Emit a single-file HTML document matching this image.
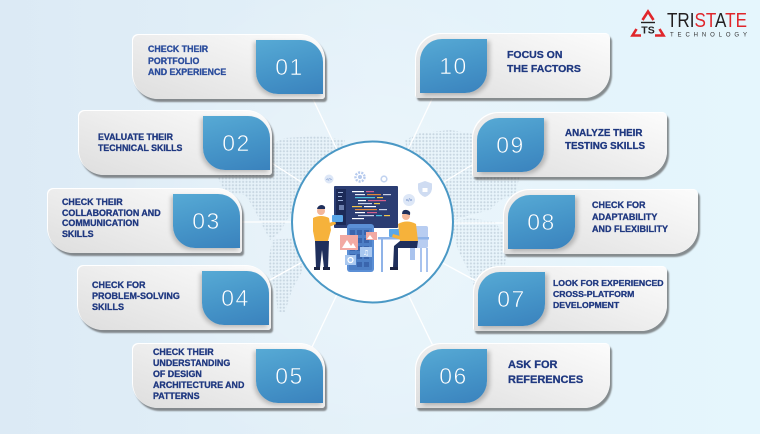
<!DOCTYPE html>
<html><head><meta charset="utf-8"><style>
*{margin:0;padding:0;box-sizing:border-box}
html,body{width:760px;height:434px;overflow:hidden}
body{position:relative;background:linear-gradient(90deg,#dceaf5 0%,#e3f1f9 50%,#e5f6fd 100%);font-family:"Liberation Sans",Arial,sans-serif}
.c{position:absolute;height:65px;background:linear-gradient(200deg,#fcfcfc 0%,#efefef 45%,#dedede 100%);box-shadow:2px 3px 1.5px rgba(70,70,70,.6),inset 1px 1px 0 #fff}
.l{border-radius:6px 26px 3px 26px}
.r{border-radius:26px 5px 26px 3px}
.b{position:absolute;top:6px;width:67px;height:54px;background:linear-gradient(165deg,#57aad5 0%,#4594c8 55%,#3a82bd 100%);color:#fff;font-size:23px;display:flex;align-items:center;justify-content:center;letter-spacing:1.5px;-webkit-text-stroke:.6px #4895c8}
.l .b{right:2px;border-radius:0 22px 0 22px;box-shadow:-2px 2px 4px rgba(0,0,0,.22)}
.r .b{left:5px;border-radius:22px 0 22px 0;box-shadow:3px 2px 4px rgba(0,0,0,.22)}
.t{position:absolute;font-weight:bold;color:#1f3880;white-space:nowrap;font-size:9px;-webkit-text-stroke:.3px #1f3880}
</style></head><body>

<svg width="760" height="434" style="position:absolute;left:0;top:0">
<defs>
<pattern id="d" width="3.4" height="3.4" patternUnits="userSpaceOnUse"><circle cx="1.7" cy="1.7" r="1.05" fill="#c7d6e1"/></pattern>
<radialGradient id="glow" cx="372" cy="222" r="260" gradientUnits="userSpaceOnUse"><stop offset="0" stop-color="#ffffff" stop-opacity=".35"/><stop offset="1" stop-color="#ffffff" stop-opacity="0"/></radialGradient>
</defs>
<rect width="760" height="434" fill="url(#glow)"/>
<g fill="url(#d)">
<path d="M218,178 L235,170 L258,150 L285,138 L320,136 L345,140 L340,160 L320,180 L300,200 L290,215 L280,232 L270,240 L262,225 L252,205 L245,195 L225,192 Z"/>
<path d="M272,240 L292,238 L305,250 L303,270 L292,290 L285,312 L278,312 L275,290 L268,265 Z"/>
<path d="M405,140 L420,133 L450,130 L480,135 L500,140 L505,160 L520,175 L515,195 L500,200 L490,210 L470,215 L455,220 L440,210 L420,200 L412,180 Z"/>
<path d="M450,222 L470,218 L495,222 L508,240 L505,265 L495,285 L485,300 L475,290 L468,270 L458,250 Z"/>
<path d="M478,290 L498,288 L505,300 L498,312 L482,310 Z"/>
</g>
<g stroke="#ffffff" stroke-width="1.3" fill="none">
<line x1="312" y1="97" x2="340" y2="156"/>
<line x1="270" y1="162" x2="306" y2="185"/>
<line x1="240" y1="222" x2="296" y2="222"/>
<line x1="268" y1="281" x2="306" y2="260"/>
<line x1="312" y1="347" x2="340" y2="288"/>
<line x1="433" y1="97" x2="405" y2="156"/>
<line x1="477" y1="162" x2="439" y2="185"/>
<line x1="449" y1="223" x2="505" y2="223"/>
<line x1="439" y1="261" x2="478" y2="282"/>
<line x1="405" y1="288" x2="435" y2="350"/>
</g>
<circle cx="372.5" cy="222" r="80.5" fill="#ffffff" stroke="#4a98c5" stroke-width="2"/>
<!-- top icons -->
<circle cx="329" cy="179" r="4.5" fill="#dde7f7"/>
<text x="329" y="180.5" font-size="4" text-anchor="middle" fill="#4a6fb5" font-family="Liberation Sans">&lt;/&gt;</text>
<circle cx="360" cy="177" r="4.5" fill="none" stroke="#b7cbee" stroke-width="2.4" stroke-dasharray="2 1.2"/>
<circle cx="360" cy="177" r="2" fill="#b7cbee"/>
<circle cx="384" cy="179" r="2.8" fill="none" stroke="#c2d3f0" stroke-width="1.6"/>
<path d="M425,181 L432,183.5 L432,189 Q431,195 425,197 Q419,195 418,189 L418,183.5 Z" fill="#cfdcf2"/>
<rect x="422.5" y="188" width="5" height="4" fill="#fff"/>
<circle cx="409" cy="200" r="6" fill="#dde7f7"/>
<text x="409" y="201.5" font-size="4.5" text-anchor="middle" fill="#4a6fb5" font-family="Liberation Sans">&lt;/&gt;</text>
<!-- monitor -->
<rect x="334" y="186" width="64" height="42" rx="1" fill="#2b3d73"/>
<rect x="336" y="189" width="10" height="36" fill="#1c2a57"/>
<g>
<rect x="338" y="192" width="5" height="1" fill="#9fb3dc"/><rect x="338" y="196" width="4" height="1" fill="#9fb3dc"/><rect x="338" y="200" width="5" height="1" fill="#9fb3dc"/><rect x="339" y="205" width="5" height="5" fill="#6c7fae"/>
<rect x="352" y="191" width="12" height="1.2" fill="#ffffff"/><rect x="366" y="191" width="8" height="1.2" fill="#d4608e"/>
<rect x="355" y="194" width="10" height="1.2" fill="#e5e9f5"/><rect x="367" y="194" width="14" height="1.2" fill="#e1873a"/><rect x="383" y="194" width="8" height="1.2" fill="#c9d1e8"/>
<rect x="355" y="197" width="20" height="1.2" fill="#4ec3e0"/><rect x="377" y="197" width="6" height="1.2" fill="#f3c64b"/>
<rect x="358" y="200" width="8" height="1.2" fill="#ffffff"/><rect x="368" y="200" width="18" height="1.2" fill="#d4608e"/>
<rect x="358" y="203" width="14" height="1.2" fill="#c9d1e8"/><rect x="374" y="203" width="6" height="1.2" fill="#f3c64b"/>
<rect x="352" y="206" width="10" height="1.2" fill="#f3c64b"/><rect x="364" y="206" width="12" height="1.2" fill="#ffffff"/>
<rect x="355" y="209" width="22" height="1.2" fill="#e1873a"/><rect x="379" y="209" width="8" height="1.2" fill="#c9d1e8"/>
<rect x="355" y="212" width="10" height="1.2" fill="#ffffff"/><rect x="367" y="212" width="10" height="1.2" fill="#d4608e"/>
<rect x="358" y="215" width="16" height="1.2" fill="#c9d1e8"/><rect x="376" y="215" width="6" height="1.2" fill="#4ec3e0"/><rect x="384" y="215" width="6" height="1.2" fill="#f3c64b"/>
<rect x="352" y="218" width="12" height="1.2" fill="#ffffff"/>
</g>
<!-- phone -->
<rect x="347" y="224" width="27" height="48" rx="3" fill="#5b8fd6"/>
<rect x="349" y="228" width="23" height="42" rx="1" fill="#4d7fc6"/>
<g fill="#3a65ad">
<rect x="350" y="230" width="5" height="5"/><rect x="357" y="230" width="5" height="5"/><rect x="364" y="230" width="5" height="5"/>
<rect x="350" y="238" width="5" height="5"/><rect x="357" y="238" width="5" height="5"/><rect x="364" y="238" width="5" height="5"/>
<rect x="350" y="246" width="5" height="5"/><rect x="357" y="246" width="5" height="5"/><rect x="364" y="246" width="5" height="5"/>
<rect x="350" y="254" width="5" height="5"/><rect x="357" y="254" width="5" height="5"/><rect x="364" y="254" width="5" height="5"/>
<rect x="357" y="262" width="5" height="5"/><rect x="364" y="262" width="5" height="5"/>
</g>
<rect x="340" y="235" width="18" height="15" fill="#f2aaa3"/>
<path d="M342,248 L347,240 L351,246 L353,243 L356,248 Z" fill="#fff"/>
<rect x="366" y="232" width="11" height="8" fill="#f2aaa3"/>
<path d="M367,239 L370,235 L373,239 Z" fill="#fff"/>
<rect x="360" y="247" width="12" height="10" fill="#a9c8f0"/>
<text x="366" y="255" font-size="7" text-anchor="middle" fill="#fff" font-family="DejaVu Sans">♫</text>
<rect x="345" y="255" width="11" height="10" fill="#a9c8f0"/>
<circle cx="350.5" cy="260" r="2.5" fill="none" stroke="#fff" stroke-width="1.3"/>
<!-- left person -->
<circle cx="321" cy="211" r="4" fill="#f3b79b"/>
<path d="M317,209 Q318,205 322,205 Q326,206 325,209 L321,209 Z" fill="#1f2f5c"/>
<path d="M313,218 Q321,214 329,218 L331,230 L328,241 L315,241 L313,231 Z" fill="#f6b23b"/>
<path d="M326,224 L335,221 L336,224 L327,228 Z" fill="#f6b23b"/>
<rect x="332" y="215" width="11" height="7" rx="1" fill="#5aa7e8"/>
<path d="M315,241 L329,241 L328,268 L324,268 L322,250 L320,268 L316,268 Z" fill="#1f2f5c"/>
<rect x="314" y="267" width="6" height="3" fill="#1b2444"/><rect x="323" y="267" width="7" height="3" fill="#1b2444"/>
<!-- desk & chair -->
<rect x="410" y="230" width="5" height="30" fill="#a9c3ee"/>
<rect x="412" y="226" width="16" height="22" rx="2" fill="#b8cdf1"/>
<rect x="378" y="237" width="51" height="2.5" fill="#8fb3e8"/>
<rect x="381" y="239" width="2" height="33" fill="#8fb3e8"/>
<rect x="420" y="248" width="2" height="24" fill="#a9c3ee"/><rect x="426" y="248" width="2" height="24" fill="#a9c3ee"/>
<rect x="389" y="229" width="12" height="8" rx="1" fill="#5aa7e8"/>
<!-- right person -->
<circle cx="406" cy="216" r="4" fill="#f3b79b"/>
<path d="M402,214 Q402,209 407,210 Q411,211 410,215 L406,214 Z" fill="#1f2f5c"/>
<path d="M398,224 Q407,219 416,224 L418,241 L400,241 Z" fill="#f6b23b"/>
<path d="M400,236 L393,234 L392,237 L401,240 Z" fill="#f6b23b"/>
<path d="M400,241 L418,241 L417,248 L398,248 L398,268 L393,268 L394,246 Z" fill="#1f2f5c"/>
<rect x="390" y="267" width="8" height="3" fill="#1b2444"/>
</svg>

<!-- left cards -->
<div class="c l" style="left:132px;top:34px;width:193px"><div class="b">01</div></div>
<div class="c l" style="left:78px;top:110px;width:194px"><div class="b">02</div></div>
<div class="c l" style="left:47px;top:188px;width:195px"><div class="b">03</div></div>
<div class="c l" style="left:77px;top:265px;width:194px"><div class="b">04</div></div>
<div class="c l" style="left:132px;top:343px;width:193px"><div class="b">05</div></div>
<!-- right cards -->
<div class="c r" style="left:415px;top:33px;width:195px"><div class="b">10</div></div>
<div class="c r" style="left:472px;top:112px;width:195px"><div class="b">09</div></div>
<div class="c r" style="left:503px;top:189px;width:195px"><div class="b">08</div></div>
<div class="c r" style="left:473px;top:266px;width:194px"><div class="b">07</div></div>
<div class="c r" style="left:415px;top:343px;width:195px"><div class="b">06</div></div>

<div class="t" style="left:148px;top:44px;font-size:8.8px;line-height:11.5px;color:#2a4c9c;-webkit-text-stroke:.3px #2a4c9c">CHECK THEIR<br>PORTFOLIO<br>AND EXPERIENCE</div>
<div class="t" style="left:98px;top:131.5px;font-size:8.8px;line-height:11px">EVALUATE THEIR<br>TECHNICAL SKILLS</div>
<div class="t" style="left:62px;top:196.8px;font-size:8.9px;line-height:10.8px">CHECK THEIR<br>COLLABORATION AND<br>COMMUNICATION<br>SKILLS</div>
<div class="t" style="left:92px;top:279.5px;font-size:9px;line-height:11px">CHECK FOR<br>PROBLEM-SOLVING<br>SKILLS</div>
<div class="t" style="left:153px;top:346.8px;font-size:8.9px;line-height:11.1px">CHECK THEIR<br>UNDERSTANDING<br>OF DESIGN<br>ARCHITECTURE AND<br>PATTERNS</div>

<div class="t" style="left:507px;top:48px;font-size:10.5px;line-height:14px">FOCUS ON<br>THE FACTORS</div>
<div class="t" style="left:565px;top:128px;font-size:9.8px;line-height:12.5px">ANALYZE THEIR<br>TESTING SKILLS</div>
<div class="t" style="left:592px;top:200.3px;font-size:9px;line-height:11.7px">CHECK FOR<br>ADAPTABILITY<br>AND FLEXIBILITY</div>
<div class="t" style="left:553px;top:277.6px;font-size:8.7px;line-height:11.4px">LOOK FOR EXPERIENCED<br>CROSS-PLATFORM<br>DEVELOPMENT</div>
<div class="t" style="left:508px;top:357.5px;font-size:11px;line-height:15px">ASK FOR<br>REFERENCES</div>

<!-- logo -->
<svg width="760" height="60" style="position:absolute;left:0;top:0">
<g stroke="#e0262b" stroke-width="2.6" fill="none" stroke-linejoin="miter">
<path d="M642.5,20 L648,11.5 L653.5,20"/>
<path d="M636.5,29 L632.5,35.5 L641,35.5"/>
<path d="M655,35.5 L663.5,35.5 L659.5,29"/>
</g>
<line x1="641" y1="22.5" x2="655" y2="22.5" stroke="#231f20" stroke-width="1.4"/>
<text x="648" y="33.5" font-size="10.5" font-weight="bold" text-anchor="middle" fill="#231f20" font-family="Liberation Sans">TS</text>
<text x="667" y="27" font-size="20.5" textLength="80" lengthAdjust="spacingAndGlyphs" font-family="Liberation Sans" fill="#231f20">TRI<tspan fill="#e0262b">ST</tspan>A<tspan fill="#e0262b">TE</tspan></text>
<text x="670" y="36.5" font-size="6" textLength="77" lengthAdjust="spacing" font-family="Liberation Sans" fill="#333">TECHNOLOGY</text>
</svg>
</body></html>
